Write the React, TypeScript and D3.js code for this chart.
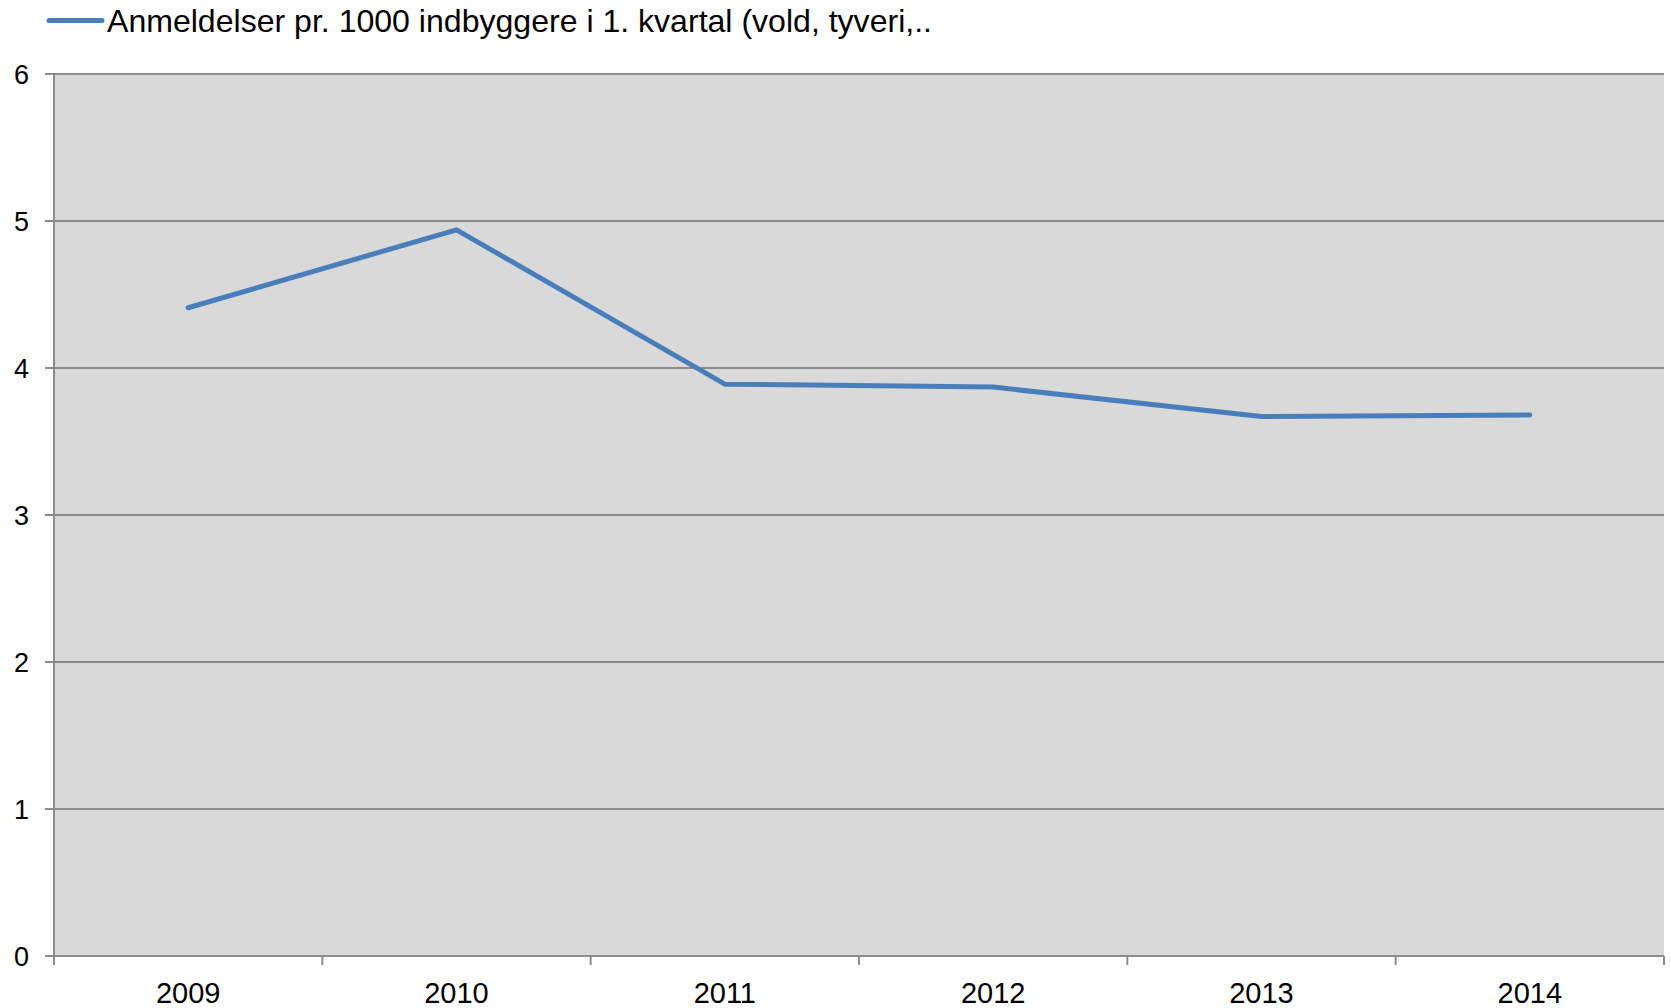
import React, { useEffect, useRef } from 'react';
import * as d3 from 'd3';

const years = ['2009', '2010', '2011', '2012', '2013', '2014'];
const values = [4.41, 4.94, 3.89, 3.87, 3.67, 3.68];
const yTicks = [0, 1, 2, 3, 4, 5, 6];
const seriesName = 'Anmeldelser pr. 1000 indbyggere i 1. kvartal (vold, tyveri,..';

const W = 1671;
const H = 1008;
const FONT = 'Liberation Sans, Arial, sans-serif';

const App = () => {
  const svgRef = useRef<SVGSVGElement | null>(null);

  useEffect(() => {
    const svg = d3.select(svgRef.current);
    svg.selectAll('*').remove();

    const margin = { top: 74, right: 7, bottom: 52, left: 54 };
    const innerW = W - margin.left - margin.right;
    const innerH = H - margin.top - margin.bottom;

    const x = d3.scaleBand().domain(years).range([0, innerW]);
    const y = d3.scaleLinear().domain([0, 6]).range([innerH, 0]);

    const g = svg.append('g').attr('transform', `translate(${margin.left},${margin.top})`);

    g.append('rect')
      .attr('x', 0)
      .attr('y', 0)
      .attr('width', innerW)
      .attr('height', innerH)
      .attr('fill', '#d9d9d9');

    // gridlines
    g.selectAll('.grid')
      .data(yTicks.filter((t) => t > 0))
      .enter()
      .append('line')
      .attr('x1', 0)
      .attr('x2', innerW)
      .attr('y1', (d) => y(d))
      .attr('y2', (d) => y(d))
      .attr('stroke', '#8c8c8c')
      .attr('stroke-width', 2);

    // y axis
    g.append('line')
      .attr('x1', 0)
      .attr('x2', 0)
      .attr('y1', 0)
      .attr('y2', innerH)
      .attr('stroke', '#8c8c8c')
      .attr('stroke-width', 2);
    g.selectAll('.ytick')
      .data(yTicks)
      .enter()
      .append('line')
      .attr('x1', -9)
      .attr('x2', 0)
      .attr('y1', (d) => y(d))
      .attr('y2', (d) => y(d))
      .attr('stroke', '#8c8c8c')
      .attr('stroke-width', 2);
    g.selectAll('.ylabel')
      .data(yTicks)
      .enter()
      .append('text')
      .attr('x', -25)
      .attr('y', (d) => y(d))
      .attr('dy', '0.36em')
      .attr('text-anchor', 'end')
      .attr('font-family', FONT)
      .attr('font-size', 27)
      .attr('fill', '#000')
      .text((d) => d);

    // x axis
    g.append('line')
      .attr('x1', 0)
      .attr('x2', innerW)
      .attr('y1', innerH)
      .attr('y2', innerH)
      .attr('stroke', '#8c8c8c')
      .attr('stroke-width', 2);
    const boundaries = years.map((d) => x(d) as number).concat([innerW]);
    g.selectAll('.xtick')
      .data(boundaries)
      .enter()
      .append('line')
      .attr('x1', (d) => d)
      .attr('x2', (d) => d)
      .attr('y1', innerH)
      .attr('y2', innerH + 9)
      .attr('stroke', '#8c8c8c')
      .attr('stroke-width', 2);
    g.selectAll('.xlabel')
      .data(years)
      .enter()
      .append('text')
      .attr('x', (d) => (x(d) as number) + x.bandwidth() / 2)
      .attr('y', innerH + 47)
      .attr('text-anchor', 'middle')
      .attr('font-family', FONT)
      .attr('font-size', 29)
      .attr('fill', '#000')
      .text((d) => d);

    // series line
    const line = d3
      .line<number>()
      .x((_, i) => (x(years[i]) as number) + x.bandwidth() / 2)
      .y((d) => y(d));
    g.append('path')
      .datum(values)
      .attr('d', line)
      .attr('fill', 'none')
      .attr('stroke', '#4a7ebb')
      .attr('stroke-width', 5)
      .attr('stroke-linecap', 'round')
      .attr('stroke-linejoin', 'round');

    // legend
    const legend = svg.append('g');
    legend
      .append('line')
      .attr('x1', 49)
      .attr('x2', 102)
      .attr('y1', 20.5)
      .attr('y2', 20.5)
      .attr('stroke', '#4a7ebb')
      .attr('stroke-width', 5)
      .attr('stroke-linecap', 'round');
    legend
      .append('text')
      .attr('x', 107)
      .attr('y', 32)
      .attr('font-family', FONT)
      .attr('font-size', 32)
      .attr('fill', '#000')
      .attr('textLength', 825)
      .attr('lengthAdjust', 'spacingAndGlyphs')
      .text(seriesName);
  }, []);

  return (
    <svg
      ref={svgRef}
      width={W}
      height={H}
      style={{ position: 'absolute', left: 0, top: 0, background: '#fff', display: 'block' }}
    />
  );
};

export default App;
